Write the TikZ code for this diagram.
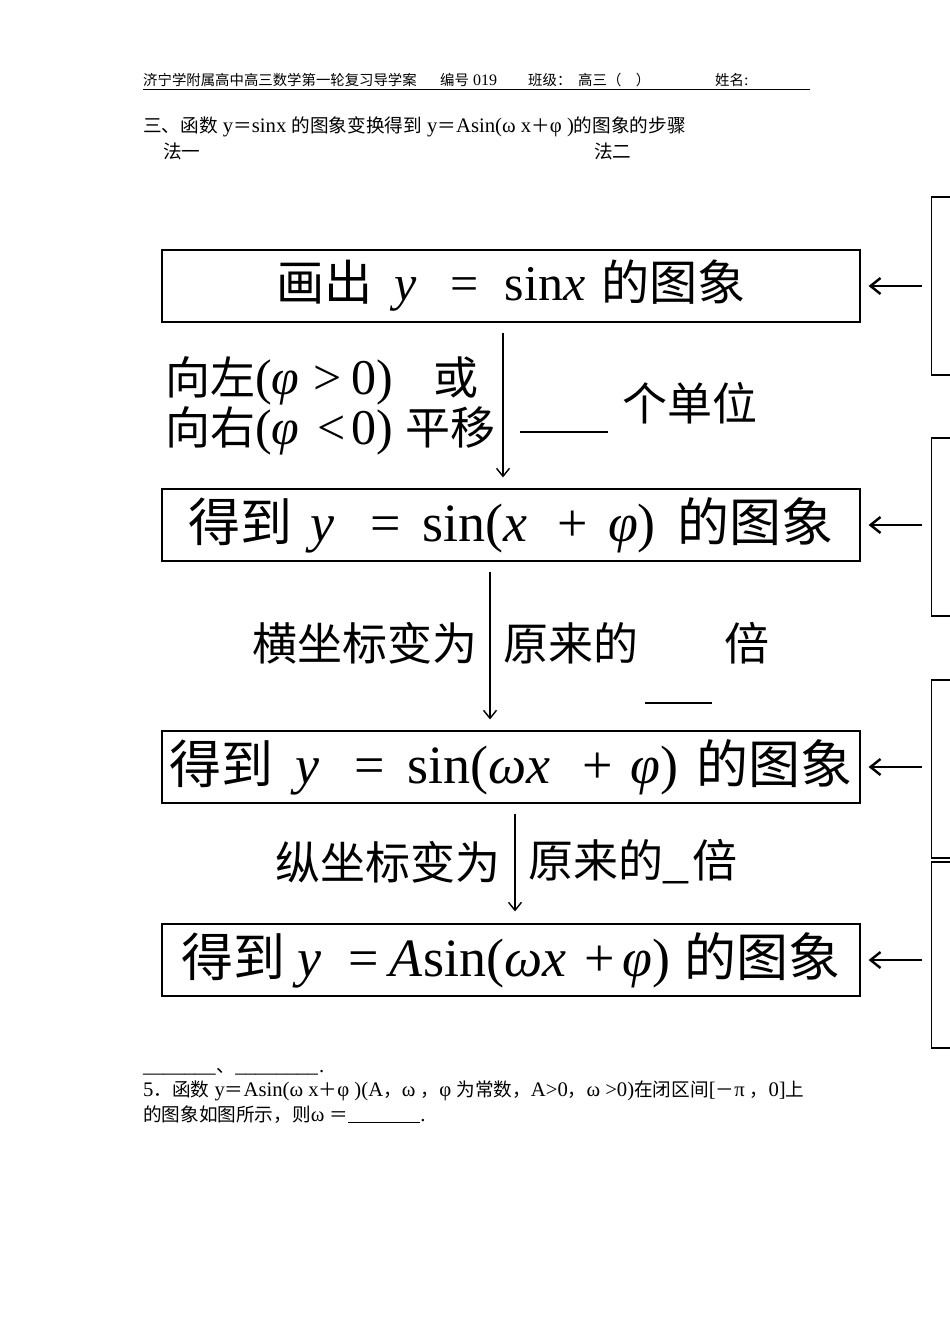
\documentclass[tikz,border=0pt]{standalone}
\usepackage{fontspec}
\setmainfont{Liberation Serif}
\newfontfamily\cjk[Scale=0.9]{Noto Sans CJK SC}
\newfontfamily\cjkb[Scale=0.963]{Noto Sans CJK SC}
\usetikzlibrary{arrows.meta,positioning}
\newcommand\mi[1]{\textit{#1}}
\tikzset{
  mainbox/.style={draw, line width=1.2pt, minimum width=698pt, minimum height=72pt, inner sep=0pt, font=\fontsize{54}{56}\selectfont},
  sidebox/.style={draw, line width=1.2pt, anchor=west, minimum width=60pt, minimum height=178pt},
  flow/.style={line width=1.4pt, -{Straight Barb[length=8pt,width=13pt]}},
  back/.style={line width=2.4pt, -{Straight Barb[length=10pt,width=16pt]}},
  note/.style={font=\fontsize{50}{45}\selectfont, inner sep=0pt},
  hd/.style={anchor=base west, inner sep=0pt, font=\fontsize{16}{18}\selectfont},
  body/.style={anchor=base west, inner sep=0pt, font=\fontsize{20.7}{22}\selectfont},
}
\begin{document}
\begin{tikzpicture}[x=1pt,y=-1pt]
\useasboundingbox (0,0) rectangle (950,1344);
% header
\node[hd] (hschool) at (143,85) {\cjk 济宁学附属高中高三数学第一轮复习导学案};
\node[hd] (hno) at (440,85) {{\cjk 编号} 019};
\node[hd] (hclass) at (528,85) {\cjk 班级：};
\node[hd] (hgrade) at (578,85) {\cjk 高三（\quad ）};
\node[hd] (hname) at (715,85) {{\cjk 姓名}:};
\draw[line width=1pt] (143,89) -- (810,89);
\node[body] (title) at (143,132) {{\cjk 三、函数} y{\cjk ＝}sinx {\cjk 的图象变换得到} y{\cjk ＝}Asin(ω x{\cjk ＋}φ ){\cjk 的图象的步骤}};
\node[body] (way1) at (163,158) {\cjk 法一};
\node[body] (way2) at (594,158) {\cjk 法二};
% main chain
\node[mainbox, font=\fontsize{50}{52}\selectfont] (box1) at (511,286) {{\cjkb 画出}\hspace{22pt}\mi{y}\hspace{34pt}=\hspace{26pt}sin\mi{x}\hspace{16pt}{\cjkb 的图象}};
\node[mainbox] (box2) at (511,525) {{\cjkb 得到}\hspace{18pt}\mi{y}\hspace{36pt}=\hspace{22pt}sin(\mi{x}\hspace{30pt}+\hspace{20pt}\mi{φ})\hspace{22pt}{\cjkb 的图象}};
\node[mainbox] (box3) at (511,767) {{\cjkb 得到}\hspace{22pt}\mi{y}\hspace{35pt}=\hspace{22pt}sin(\mi{ωx}\hspace{32pt}+\hspace{18pt}\mi{φ})\hspace{18pt}{\cjkb 的图象}};
\node[mainbox] (box4) at (511,960) {{\cjkb 得到}\hspace{12pt}\mi{y}\hspace{27pt}=\hspace{11pt}\mi{A}sin(\mi{ωx}\hspace{18pt}+\hspace{8pt}\mi{φ})\hspace{14pt}{\cjkb 的图象}};
\coordinate (x1) at (503,0);
\coordinate (x2) at (490,0);
\coordinate (x3) at (515,0);
\draw[flow, shorten <=10pt, shorten >=11pt] (box1.south -| x1) -- (box2.north -| x1);
\draw[flow, shorten <=10pt, shorten >=11pt] (box2.south -| x2) -- (box3.north -| x2);
\draw[flow, shorten <=10pt, shorten >=12pt] (box3.south -| x3) -- (box4.north -| x3);
% step notes
\node[note, anchor=west, align=left] (shift) at (165,406) {{\cjk 向左}(\mi{φ}\hspace{14pt}>\hspace{10pt}0)\hspace{40pt}{\cjk 或}\\{\cjk 向右}(\mi{φ}\hspace{18pt}<\hspace{6pt}0)\hspace{12pt}{\cjk 平移}};
\draw[line width=2.5pt] (520,432) -- (608,432);
\node[note, anchor=west] (unit) at (622,403) {\cjk 个单位};
\node[note] (hor) at (365,643) {\cjk 横坐标变为};
\node[note, anchor=west] (hor2) at (503,643) {\cjk 原来的};
\node[note] (hor3) at (747,643) {\cjk 倍};
\draw[line width=1.5pt] (645,703) -- (712,703);
\node[note] (ver) at (388,862) {\cjk 纵坐标变为};
\node[note, anchor=west] (ver2) at (528,862) {{\cjk 原来的}\_\hspace{4pt}{\cjk 倍}};
% method two (cut off at the right edge)
\node[sidebox] (side1) at (931,286) {};
\node[sidebox] (side2) at (931,527) {};
\node[sidebox] (side3) at (931,769) {};
\node[sidebox, minimum height=186pt] (side4) at (931,955) {};
\draw[back, shorten <=9pt, shorten >=8pt] (side1.west) -- (box1.east);
\draw[back, shorten <=9pt, shorten >=8pt] (side2.west |- box2.east) -- (box2.east);
\draw[back, shorten <=9pt, shorten >=8pt] (side3.west |- box3.east) -- (box3.east);
\draw[back, shorten <=9pt, shorten >=8pt] (side4.west |- box4.east) -- (box4.east);
% bottom text
\node[body] (blank) at (143,1072) {\_\_\_\_\_\_\_\hspace{1pt}{\cjk 、}\_\_\_\_\_\_\_\_\hspace{1pt}.};
\node[body] (q5) at (143,1096) {5{\cjk ．函数} y{\cjk ＝}Asin(ω x{\cjk ＋}φ )(A{\cjk ，}ω {\cjk ，}φ {\cjk 为常数，}A>0{\cjk ，}ω >0){\cjk 在闭区间}[{\cjk －}π {\cjk ，}0]{\cjk 上}};
\node[body] (q5b) at (143,1121) {{\cjk 的图象如图所示，则}ω {\cjk ＝}\rule[-2pt]{72pt}{0.8pt}.};
\end{tikzpicture}
\end{document}
